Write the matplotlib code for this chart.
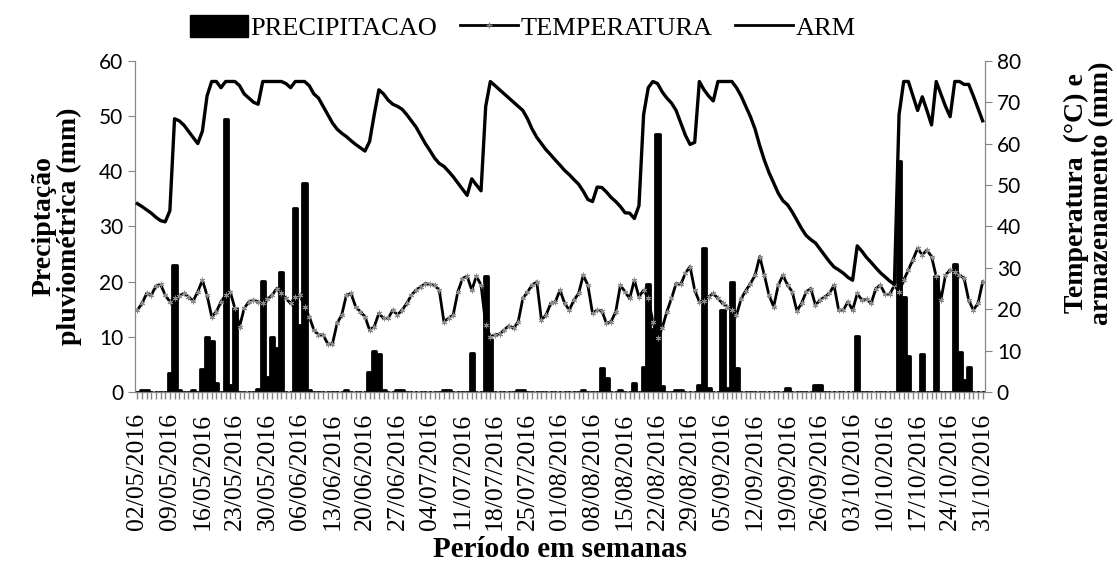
import matplotlib.pyplot as plt
import numpy as np
import pandas as pd
from matplotlib.patches import Patch
from matplotlib.lines import Line2D

# daily series 02/05/2016 .. 31/10/2016 (one row = one week)
dates = pd.date_range('2016-05-02', '2016-10-31', freq='D')

precipitacao = [
    0, 0.3, 0.3, 0, 0, 0, 0,
    3.4, 23.0, 0.3, 0, 0, 0.3, 0,
    4.1, 10.0, 9.3, 1.7, 0, 49.5, 1.2,
    15.3, 0, 0, 0, 0, 0.6, 20.1,
    2.7, 9.9, 7.9, 21.7, 0, 0, 33.3,
    12.2, 37.9, 0.3, 0, 0, 0, 0,
    0, 0, 0, 0.3, 0, 0, 0,
    0, 3.7, 7.5, 6.8, 0.3, 0, 0,
    0.3, 0.3, 0, 0, 0, 0, 0,
    0, 0, 0, 0.3, 0.3, 0, 0,
    0, 0, 7.0, 0, 0, 21.1, 9.6,
    0, 0, 0, 0, 0, 0.3, 0.3,
    0, 0, 0, 0, 0, 0, 0,
    0, 0, 0, 0, 0, 0.3, 0,
    0, 0, 4.3, 2.5, 0, 0, 0.3,
    0, 0, 1.6, 0, 4.5, 19.6, 11.5,
    46.8, 1.0, 0, 0, 0.3, 0.3, 0,
    0, 0, 1.3, 26.0, 0.8, 0, 0,
    14.9, 0.8, 19.9, 4.3, 0, 0, 0,
    0, 0, 0, 0, 0, 0, 0,
    0.7, 0, 0, 0, 0, 0, 1.3,
    1.3, 0, 0, 0, 0, 0, 0,
    0, 10.2, 0, 0, 0, 0, 0,
    0, 0, 0, 41.9, 17.3, 6.6, 0,
    0, 6.9, 0, 0, 21.1, 0, 0,
    0, 23.1, 7.2, 2.1, 4.5, 0, 0,
    0,
]

temperatura = [
    19.8, 21.4, 23.8, 23.4, 25.6, 26.0, 23.4,
    21.8, 22.6, 23.2, 23.8, 23.0, 22.0, 24.2,
    27.0, 23.4, 18.2, 19.4, 21.8, 23.4, 24.2,
    20.2, 15.8, 20.2, 21.8, 22.2, 21.8, 21.4,
    22.4, 23.4, 25.0, 23.8, 22.6, 21.4, 23.0,
    23.4, 20.6, 18.2, 15.0, 13.8, 13.8, 11.6,
    11.6, 16.6, 18.6, 23.4, 23.8, 20.6, 19.4,
    18.2, 15.0, 15.8, 19.0, 17.8, 17.8, 19.8,
    18.6, 19.8, 21.4, 23.4, 24.6, 25.4, 26.2,
    26.0, 25.8, 24.6, 17.0, 17.8, 18.6, 24.2,
    27.4, 28.0, 24.6, 28.0, 25.8, 16.2, 13.4,
    13.8, 14.0, 15.0, 16.0, 15.4, 17.0, 22.6,
    24.2, 25.8, 26.6, 17.4, 18.6, 21.4, 21.8,
    24.6, 21.4, 19.8, 22.2, 23.8, 28.2, 25.8,
    19.0, 19.8, 19.6, 16.6, 17.0, 19.4, 25.8,
    24.2, 22.6, 27.0, 23.0, 24.6, 22.6, 17.0,
    13.0, 15.4, 19.4, 22.6, 26.2, 26.0, 28.7,
    30.3, 24.6, 21.8, 22.0, 23.0, 23.8, 22.6,
    21.4, 20.6, 19.8, 18.6, 22.5, 24.5, 26.2,
    28.2, 32.7, 28.2, 23.4, 20.6, 25.8, 28.2,
    25.8, 24.2, 19.6, 21.4, 24.2, 25.0, 21.0,
    22.2, 23.0, 23.8, 25.8, 19.8, 19.8, 21.8,
    19.8, 23.8, 22.2, 22.4, 21.4, 25.0, 25.8,
    23.6, 23.6, 25.8, 24.2, 27.0, 29.5, 32.0,
    34.7, 33.1, 34.3, 32.7, 27.9, 22.2, 28.2,
    29.5, 29.0, 28.2, 27.5, 22.2, 19.8, 21.4,
    26.6,
]

arm = [
    45.5, 44.8, 44.0, 43.2, 42.2, 41.4, 41.1,
    43.8, 66.0, 65.5, 64.5, 63.0, 61.5, 60.0,
    63.0, 71.5, 75.0, 75.0, 73.5, 75.0, 75.0,
    75.0, 74.0, 72.0, 71.0, 70.0, 69.5, 75.0,
    75.0, 75.0, 75.0, 75.0, 74.5, 73.5, 75.0,
    75.0, 75.0, 74.0, 72.0, 71.0, 69.0, 67.0,
    65.0, 63.5, 62.5, 61.7, 60.7, 59.8, 59.0,
    58.2, 60.5, 67.0, 73.0, 72.0, 70.5, 69.5,
    69.0, 68.3, 67.0, 65.5, 64.0, 62.0, 60.0,
    58.3, 56.5, 55.2, 54.5, 53.3, 52.0, 50.5,
    49.0, 47.5, 51.5, 50.0, 48.6, 69.0, 75.0,
    74.0, 73.0, 72.0, 71.0, 70.0, 69.0, 68.0,
    66.0, 63.5, 61.5, 60.0, 58.5, 57.3, 56.0,
    54.8, 53.5, 52.5, 51.3, 50.2, 48.5, 46.5,
    46.0, 49.5, 49.4, 48.3, 47.0, 46.0, 44.8,
    43.3, 43.2, 41.9, 45.0, 67.0, 73.5, 75.0,
    74.5, 72.5, 71.0, 69.8, 68.0, 65.0, 62.0,
    59.8, 60.3, 75.0, 73.0, 71.5, 70.3, 75.0,
    75.0, 75.0, 75.0, 73.5, 71.5, 69.0, 66.5,
    63.5, 59.5, 56.0, 53.0, 50.5, 48.0, 46.2,
    45.2, 43.5, 41.5, 39.5, 37.8, 36.8, 36.0,
    34.5, 33.0, 31.5, 30.2, 29.5, 28.7, 27.7,
    27.0, 35.3, 34.0, 32.5, 31.3, 30.0, 28.8,
    27.8, 26.8, 26.0, 67.0, 75.0, 75.0, 71.5,
    68.0, 71.3, 68.0, 64.5, 75.0, 72.0, 69.0,
    66.5, 75.0, 75.0, 74.3, 74.3, 71.5, 68.5,
    65.5,
]

serif = 'Liberation Serif'
sans = 'Lato'
grey = '#868686'

x = np.arange(len(dates))
week_ticks = x[::7]
week_labels = [d.strftime('%d/%m/%Y') for d in dates[::7]]

fig = plt.figure(figsize=(11.17, 5.66), dpi=100)
ax = fig.add_axes([0.1209, 0.3074, 0.7609, 0.5852])
ax2 = ax.twinx()

ax.bar(x, precipitacao, width=0.9, color='black', edgecolor='black',
       linewidth=2.0, joinstyle='round', zorder=2)

ax2.plot(x, temperatura, color='black', linewidth=2, marker=(6, 2, 0),
         markersize=4, markeredgecolor='#8a8a8a', markeredgewidth=0.7, zorder=3)
ax2.plot(x, arm, color='black', linewidth=2.4, zorder=3)

ax.set_xlim(-0.5, len(dates) - 0.5)
ax.set_ylim(0, 60)
ax2.set_ylim(0, 80)
ax.set_yticks(range(0, 61, 10))
ax2.set_yticks(range(0, 81, 10))

ax.set_xticks(week_ticks)
ax.set_xticklabels(week_labels, rotation=90, fontsize=18.5, family=serif)
ax.set_xticks(x, minor=True)

for a in (ax, ax2):
    for s in a.spines.values():
        s.set_color(grey)
    a.spines['top'].set_visible(False)
    a.tick_params(axis='y', colors=grey, labelcolor='black', labelsize=15, length=5)
    for lab in a.get_yticklabels():
        lab.set_family(sans)
ax.tick_params(axis='x', which='both', colors=grey, labelcolor='black', length=5,
               width=1, pad=10)

ax.set_ylabel('Preciptação\npluviométrica (mm)', fontsize=20, family=serif,
              fontweight='bold', linespacing=1.0, va='center')
ax.yaxis.set_label_coords(-0.092, 0.5)
ax2.set_ylabel('Temperatura  (°C) e\narmazenamento (mm)', fontsize=20, family=serif,
               fontweight='bold', rotation=90, linespacing=1.0, va='center')
ax2.yaxis.set_label_coords(1.122, 0.6)
ax.set_xlabel('Período em semanas', fontsize=21, family=serif, fontweight='bold',
              labelpad=4)

handles = [Patch(facecolor='black', edgecolor='black'),
           Line2D([], [], color='black', linewidth=2, marker='+', markersize=4,
                  markeredgecolor='#8a8a8a'),
           Line2D([], [], color='black', linewidth=2)]
fig.legend(handles, ['PRECIPITACAO', 'TEMPERATURA', 'ARM'], loc='upper center',
           bbox_to_anchor=(0.468, 1.015), ncol=3, frameon=False, handlelength=2.2,
           handleheight=0.9, handletextpad=0.1, columnspacing=0.85,
           prop={'family': serif, 'size': 19})

fig.savefig('out.png', dpi=100)
